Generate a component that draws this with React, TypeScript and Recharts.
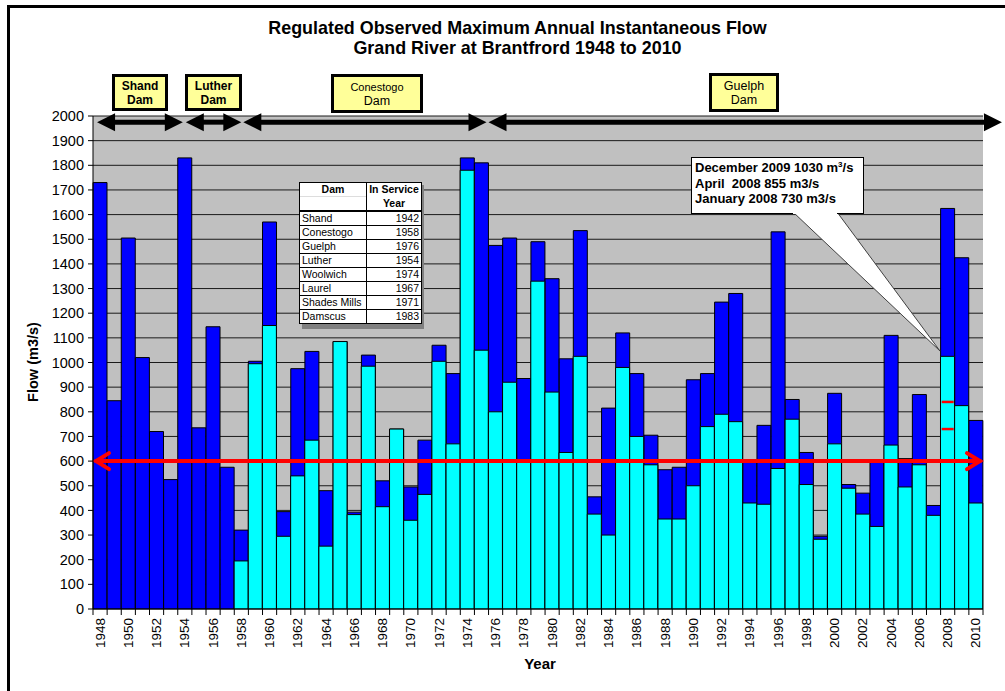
import { Bar, CartesianGrid, ComposedChart, ReferenceDot, ReferenceLine, XAxis, YAxis } from "recharts"

const years = [
  "1948", "1949", "1950", "1951", "1952", "1953", "1954", "1955", "1956", "1957",
  "1958", "1959", "1960", "1961", "1962", "1963", "1964", "1965", "1966", "1967",
  "1968", "1969", "1970", "1971", "1972", "1973", "1974", "1975", "1976", "1977",
  "1978", "1979", "1980", "1981", "1982", "1983", "1984", "1985", "1986", "1987",
  "1988", "1989", "1990", "1991", "1992", "1993", "1994", "1995", "1996", "1997",
  "1998", "1999", "2000", "2001", "2002", "2003", "2004", "2005", "2006", "2007",
  "2008", "2009", "2010",
]

// observed maximum (dark blue)
const observed = [
  1730, 845, 1505, 1020, 720, 525, 1830, 735, 1145, 575,
  320, 1005, 1570, 395, 975, 1045, 480, 1085, 393, 1030,
  520, 730, 495, 685, 1070, 955, 1830, 1810, 1475, 1505,
  935, 1490, 1340, 1015, 1535, 455, 815, 1120, 955, 705,
  565, 575, 930, 955, 1245, 1280, 598, 745, 1530, 850,
  635, 295, 875, 505, 470, 598, 1110, 610, 870, 420,
  1625, 1425, 765,
]

// regulated (cyan)
const regulated = [
  null, null, null, null, null, null, null, null, null, null,
  195, 995, 1150, 295, 540, 685, 255, 1085, 383, 985,
  415, 730, 360, 465, 1005, 670, 1780, 1050, 800, 920,
  600, 1330, 880, 635, 1025, 385, 300, 980, 700, 585,
  365, 365, 500, 740, 790, 760, 430, 425, 570, 770,
  505, 283, 670, 490, 385, 335, 665, 495, 585, 380,
  1025, 825, 430,
]

const yTicks = [0, 100, 200, 300, 400, 500, 600, 700, 800, 900, 1000, 1100, 1200, 1300, 1400, 1500, 1600, 1700, 1800, 1900, 2000]
const averageFlow = 600
const marks2008 = [840, 730]

const damNames = ["Shand", "Conestogo", "Guelph", "Luther", "Woolwich", "Laurel", "Shades Mills", "Damscus"]
const damYears = [1942, 1958, 1976, 1954, 1974, 1967, 1971, 1983]

const damArrows = [
  { from: "1948", to: "1954", dx1: -3, dx2: -2 },
  { from: "1954", to: "1958", dx1: 1, dx2: 0 },
  { from: "1958", to: "1975", dx1: 2, dx2: 5 },
  { from: "1975", to: "2010", dx1: 7, dx2: 26 },
]

const data = years.map((year, i) => ({ year, observed: observed[i], regulated: regulated[i] }))

const FONT = "'Liberation Sans', Arial, sans-serif"

function YearTick(props: any) {
  const { x, y, payload, index } = props
  const half = payload.offset || 7
  const yr = Number(payload.value)
  const base = y
  return (
    <g>
      <line x1={x - half} x2={x - half} y1={base} y2={base + 6} stroke="#000" />
      {index === years.length - 1 && <line x1={x + half} x2={x + half} y1={base} y2={base + 6} stroke="#000" />}
      {yr % 2 === 0 && (
        <text
          transform={`translate(${x},${base + 9}) rotate(-90)`}
          textAnchor="end"
          dominantBaseline="central"
          fontSize={13.5}
          fontFamily={FONT}
          fill="#000"
        >
          {payload.value}
        </text>
      )}
    </g>
  )
}

function DoubleArrow(p: any, dx1: number, dx2: number) {
  const x1 = p.x1 + dx1
  const x2 = p.x2 + dx2
  const y = p.y1
  const L = 18
  const H = 9
  return (
    <g>
      <line x1={x1 + L - 2} x2={x2 - L + 2} y1={y} y2={y} stroke="#000" strokeWidth={5} />
      <polygon points={`${x1},${y} ${x1 + L},${y - H} ${x1 + L},${y + H}`} fill="#000" />
      <polygon points={`${x2},${y} ${x2 - L},${y - H} ${x2 - L},${y + H}`} fill="#000" />
    </g>
  )
}

function RedArrowLine(p: any) {
  const { x1, x2, y1 } = p
  const y = y1
  return (
    <g stroke="#FF0000" strokeWidth={4} fill="none" strokeLinecap="round">
      <line x1={x1 + 3} x2={x2 - 3} y1={y} y2={y} />
      <polyline points={`${x1 + 16},${y - 8} ${x1 + 3},${y} ${x1 + 16},${y + 8}`} />
      <polyline points={`${x2 - 16},${y - 8} ${x2 - 3},${y} ${x2 - 16},${y + 8}`} />
    </g>
  )
}

function MarkTick(p: any) {
  return <line x1={p.cx - 6} x2={p.cx + 6} y1={p.cy} y2={p.cy} stroke="#FF0000" strokeWidth={2.5} />
}

const damBox = (left: number, top: number, w: number, h: number): React.CSSProperties => ({
  position: "absolute", left, top, width: w, height: h, boxSizing: "border-box",
  background: "#FFFF99", border: "3px solid #000", display: "flex", flexDirection: "column",
  alignItems: "center", justifyContent: "center", fontFamily: FONT, lineHeight: "14px", color: "#000",
})

const cell: React.CSSProperties = { border: "1px solid #000", padding: "0 2px", height: 13, lineHeight: "13px" }

export default function App() {
  return (
    <div style={{ position: "absolute", left: 0, top: 0, width: 1005, height: 691, background: "#fff", overflow: "hidden" }}>
      <div style={{ position: "absolute", left: 7, top: 5, width: 1100, height: 800, borderLeft: "3px solid #000", borderTop: "3px solid #000" }} />
      <div style={{ position: "absolute", left: 0, top: 18, width: 1035, textAlign: "center", fontFamily: FONT, fontWeight: "bold", fontSize: 17.9, lineHeight: "20px", color: "#000" }}>
        Regulated Observed Maximum Annual Instantaneous Flow
        <br />
        Grand River at Brantfrord 1948 to 2010
      </div>
      <ComposedChart
        width={1005}
        height={691}
        data={data}
        margin={{ top: 116, right: 22, bottom: 32, left: 41 }}
        barCategoryGap={0}
        barGap="-100%"
        style={{ position: "absolute", left: 0, top: 0 }}
      >
        <CartesianGrid vertical={false} stroke="#1a1a1a" fill="#C0C0C0" fillOpacity={1} />
        <XAxis
          dataKey="year"
          interval={0}
          tickLine={false}
          tickSize={0}
          tickMargin={0}
          height={50}
          axisLine={{ stroke: "#000" }}
          tick={<YearTick />}
        />
        <YAxis
          domain={[0, 2000]}
          ticks={yTicks}
          interval={0}
          width={52}
          tickSize={5}
          tickMargin={4}
          axisLine={{ stroke: "#000" }}
          tickLine={{ stroke: "#000" }}
          tick={{ fontSize: 14.5, fill: "#000", fontFamily: FONT }}
          allowDataOverflow
        />
        <Bar dataKey="observed" fill="#0000FF" stroke="#000" strokeWidth={1} isAnimationActive={false} />
        <Bar dataKey="regulated" fill="#00FFFF" stroke="#000" strokeWidth={1} isAnimationActive={false} />
        <ReferenceLine y={averageFlow} shape={RedArrowLine} ifOverflow="visible" />
        {marks2008.map((v) => (
          <ReferenceDot key={v} x="2008" y={v} shape={MarkTick} ifOverflow="visible" />
        ))}
        {damArrows.map((a) => (
          <ReferenceLine
            key={a.from}
            segment={[{ x: a.from, y: 1975 }, { x: a.to, y: 1975 }]}
            ifOverflow="visible"
            shape={(p: any) => DoubleArrow(p, a.dx1, a.dx2)}
          />
        ))}
      </ComposedChart>

      <div style={{ position: "absolute", left: 540, top: 663, transform: "translate(-50%,-50%)", fontFamily: FONT, fontWeight: "bold", fontSize: 15, color: "#000" }}>Year</div>
      <div style={{ position: "absolute", left: 33, top: 362, transform: "translate(-50%,-50%) rotate(-90deg)", fontFamily: FONT, fontWeight: "bold", fontSize: 14.5, color: "#000", whiteSpace: "nowrap" }}>Flow (m3/s)</div>

      <div style={damBox(112, 74, 56, 37)}><b style={{ fontSize: 12 }}>Shand</b><b style={{ fontSize: 12 }}>Dam</b></div>
      <div style={damBox(185, 74, 57, 37)}><b style={{ fontSize: 12 }}>Luther</b><b style={{ fontSize: 12 }}>Dam</b></div>
      <div style={damBox(331, 74, 92, 39)}><span style={{ fontSize: 11 }}>Conestogo</span><span style={{ fontSize: 12.5 }}>Dam</span></div>
      <div style={damBox(709, 73, 70, 39)}><span style={{ fontSize: 12.5 }}>Guelph</span><span style={{ fontSize: 12.5 }}>Dam</span></div>

      <div style={{ position: "absolute", left: 302, top: 185, width: 122, height: 144, background: "#808080" }} />
      <table style={{ position: "absolute", left: 299, top: 182, width: 123, borderCollapse: "collapse", background: "#fff", fontFamily: FONT, fontSize: 10.5, color: "#000" }}>
        <tbody>
          <tr>
            <td style={{ ...cell, fontWeight: "bold", textAlign: "center", width: 62, borderBottom: "none" }}>Dam</td>
            <td style={{ ...cell, fontWeight: "bold", textAlign: "center", borderBottom: "none" }}>In Service</td>
          </tr>
          <tr>
            <td style={{ ...cell, borderTop: "1px solid #ddd", borderBottom: "2px solid #000" }}></td>
            <td style={{ ...cell, fontWeight: "bold", textAlign: "center", borderTop: "none", borderBottom: "2px solid #000" }}>Year</td>
          </tr>
          {damNames.map((n, i) => (
            <tr key={n}>
              <td style={cell}>{n}</td>
              <td style={{ ...cell, textAlign: "right" }}>{damYears[i]}</td>
            </tr>
          ))}
        </tbody>
      </table>

      <svg width={1005} height={691} style={{ position: "absolute", left: 0, top: 0, pointerEvents: "none" }}>
        <polygon points="793,212 837,212 940,351" fill="#fff" stroke="#404040" strokeWidth={1} />
      </svg>
      <div style={{ position: "absolute", left: 691, top: 157, width: 173, height: 57, boxSizing: "border-box", background: "#fff", border: "1px solid #000", borderBottom: "none", padding: "2px 0 0 3px", fontFamily: FONT, fontWeight: "bold", fontSize: 13, lineHeight: "15.5px", color: "#000", whiteSpace: "pre" }}>
        <div>December 2009 1030 m<sup style={{ fontSize: 8, lineHeight: 0 }}>3</sup>/s</div>
        <div>April  2008 855 m3/s</div>
        <div>January 2008 730 m3/s</div>
      </div>
      <svg width={1005} height={691} style={{ position: "absolute", left: 0, top: 0, pointerEvents: "none" }}>
        <line x1={691} x2={793} y1={213.5} y2={213.5} stroke="#000" />
        <line x1={837} x2={864} y1={213.5} y2={213.5} stroke="#000" />
      </svg>
    </div>
  )
}
